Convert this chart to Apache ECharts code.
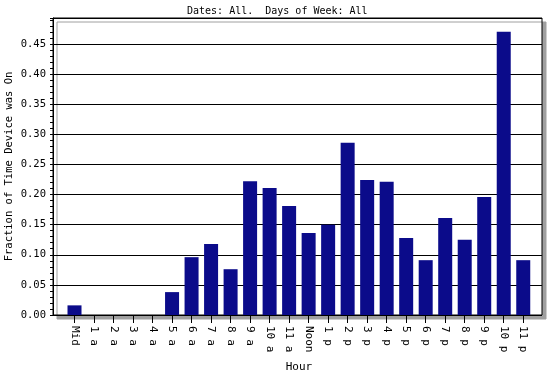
<!DOCTYPE html>
<html>
<head>
<meta charset="utf-8">
<script src="https://cdn.jsdelivr.net/npm/echarts@6/dist/echarts.min.js"></script>
<style>
  html, body { margin: 0; padding: 0; background: #fff; }
  #chart { width: 556px; height: 376px; }
</style>
</head>
<body>
<div id="chart"></div>
<script>
const hours = ['Mid', '1 a', '2 a', '3 a', '4 a', '5 a', '6 a', '7 a', '8 a', '9 a', '10 a', '11 a',
  'Noon', '1 p', '2 p', '3 p', '4 p', '5 p', '6 p', '7 p', '8 p', '9 p', '10 p', '11 p']
const fractionOn = [0.016, 0, 0, 0, 0, 0.038, 0.096, 0.118, 0.076, 0.222, 0.211, 0.181,
  0.136, 0.150, 0.286, 0.224, 0.221, 0.128, 0.091, 0.161, 0.125, 0.196, 0.470, 0.091]
const yTicks = [0, 0.05, 0.10, 0.15, 0.20, 0.25, 0.30, 0.35, 0.40, 0.45]

const yMax = 0.493
// old bitmap-ish font is wide, a mono face gets the spacing close
const font = 'DejaVu Sans Mono'

const myChart = echarts.init(document.getElementById('chart'))

const option = {
  animation: false,
  backgroundColor: '#fff',
  title: {
    text: 'Dates: All.  Days of Week: All',
    left: 182,
    top: 1,
    textStyle: {fontFamily: font, fontSize: 10, fontWeight: 'normal', color: '#000'}
  },
  grid: [
    // frame + gridlines (with the grey drop shadow)
    {
      left: 53, right: 14, top: 18, bottom: 61,
      outerBoundsMode: 'none',
      containLabel: false,
      show: true,
      backgroundColor: '#fff',
      borderColor: '#000',
      borderWidth: 1,
      shadowColor: '#a0a0a0',
      shadowBlur: 0,
      shadowOffsetX: 4,
      shadowOffsetY: 4
    },
    // bars sit a bit inside the frame
    {left: 64.75, right: 23, top: 18, bottom: 61, outerBoundsMode: 'none', containLabel: false}
  ],
  xAxis: [
    {gridIndex: 0, type: 'value', min: 0, max: 1, show: false},
    {
      gridIndex: 1,
      type: 'category',
      data: hours,
      name: 'Hour',
      nameLocation: 'middle',
      nameGap: 47,
      nameMoveOverlap: false,
      nameTextStyle: {fontFamily: font, fontSize: 11, color: '#000'},
      axisLine: {show: false},
      axisTick: {show: true, alignWithLabel: true, length: 8, lineStyle: {color: '#000'}},
      axisLabel: {
        interval: 0,
        rotate: -90,
        margin: 11,
        fontFamily: font,
        fontSize: 11,
        color: '#000'
      },
      splitLine: {show: false}
    }
  ],
  yAxis: [
    {
      gridIndex: 0,
      type: 'value',
      min: 0,
      max: yMax,
      interval: 0.05,
      name: 'Fraction of Time Device was On',
      nameLocation: 'middle',
      nameGap: 38,
      nameMoveOverlap: false,
      nameTextStyle: {fontFamily: font, fontSize: 10.5, color: '#000'},
      axisLine: {show: true, lineStyle: {color: '#000'}},
      axisTick: {show: true, length: 3, lineStyle: {color: '#000'}},
      minorTick: {show: true, splitNumber: 5, length: 3, lineStyle: {color: '#000'}},
      axisLabel: {
        margin: 7,
        fontFamily: font,
        fontSize: 10.5,
        color: '#000',
        showMaxLabel: false,
        formatter: v => {
          const t = yTicks.find(x => Math.abs(x - v) < 1e-6)
          return t === undefined ? '' : t.toFixed(2)
        }
      },
      splitLine: {show: true, lineStyle: {color: '#000', width: 1}}
    },
    {gridIndex: 1, type: 'value', min: 0, max: yMax, show: false}
  ],
  series: [
    {
      name: 'Fraction of Time Device was On',
      type: 'bar',
      xAxisIndex: 1,
      yAxisIndex: 1,
      barWidth: 14,
      data: fractionOn,
      itemStyle: {color: '#0b0b8a'}
    }
  ]
}

myChart.setOption(option)
</script>
</body>
</html>
